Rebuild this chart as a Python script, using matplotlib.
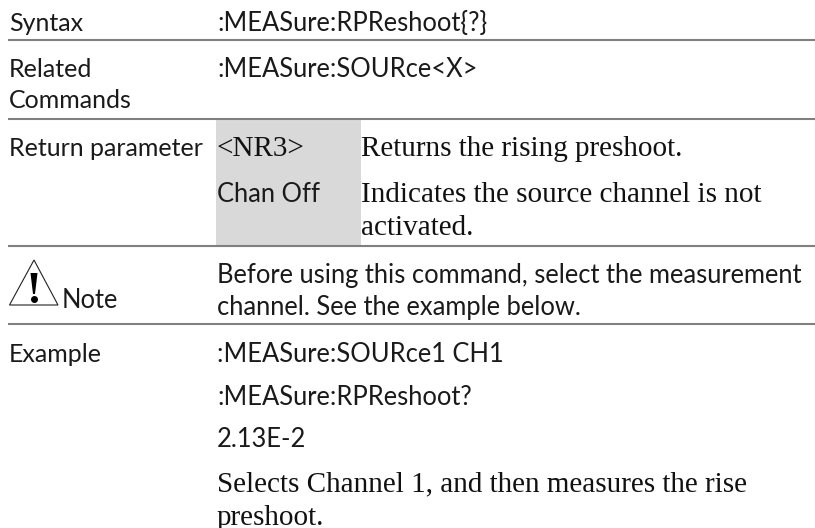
import matplotlib
matplotlib.use("Agg")
import matplotlib.pyplot as plt
from matplotlib.patches import Polygon, Rectangle

# page text, one list per font
sans_labels = ["Syntax", "Related", "Commands", "Return parameter", "Example"]
sans_values = [":MEASure:RPReshoot{?}", ":MEASure:SOURce<X>", "Chan Off",
               "Before using this command, select the measurement",
               "channel. See the example below.",
               ":MEASure:SOURce1 CH1", ":MEASure:RPReshoot?", "2.13E-2"]
serif_lines = ["<NR3>", "Returns the rising preshoot.",
               "Indicates the source channel is not", "activated.",
               "Selects Channel 1, and then measures the rise", "preshoot."]
note_label = "Note"

# layout in pixels
W, H = 815, 528
SANS = "Lato"
SERIF = "Liberation Serif"
SIZE = 18
VALUE_SIZE = 18.4
SERIF_SIZE = 21
label_pos = [(9, 31), (9, 77), (9, 108), (9, 156), (9, 362)]
value_pos = [(217, 31), (217, 77), (217, 202), (217, 283), (217, 315),
             (217, 362), (217, 405), (217, 447)]
serif_pos = [(217, 156), (361, 156), (361, 202), (361, 235), (217, 491), (217, 525)]
rule_y = [40, 118.5, 246, 324]

fig = plt.figure(figsize=(W / 100, H / 100), dpi=100, facecolor="white")
ax = fig.add_axes([0, 0, 1, 1])
ax.set_xlim(0, W)
ax.set_ylim(H, 0)
ax.axis("off")

ax.add_patch(Rectangle((216, 120), 145, 126, facecolor="#d9d9d9", edgecolor="none"))

for y in rule_y:
    ax.plot([8, W], [y, y], color="#808080", lw=1.5, solid_capstyle="butt")

for txt, (x, y) in zip(sans_labels, label_pos):
    ax.text(x, y, txt, family=SANS, fontsize=SIZE, color="#1a1a1a", va="baseline")
for txt, (x, y) in zip(sans_values, value_pos):
    ax.text(x, y, txt, family=SANS, fontsize=VALUE_SIZE, color="#1a1a1a", va="baseline")
for txt, (x, y) in zip(serif_lines, serif_pos):
    ax.text(x, y, txt, family=SERIF, fontsize=SERIF_SIZE, color="#111111", va="baseline")

# warning triangle
ax.add_patch(Polygon([(34, 260), (9.5, 305), (58, 305)], closed=True, fill=False,
                     edgecolor="#222222", lw=0.8))
ax.add_patch(Polygon([(30.5, 273), (37.5, 273), (35, 294), (33, 294)], closed=True,
                     facecolor="black", edgecolor="none"))
ax.plot([34], [298.5], "o", color="black", ms=4)
ax.text(62, 308, note_label, family=SANS, fontsize=VALUE_SIZE, color="#1a1a1a", va="baseline")

fig.savefig("out.png", dpi=100)
